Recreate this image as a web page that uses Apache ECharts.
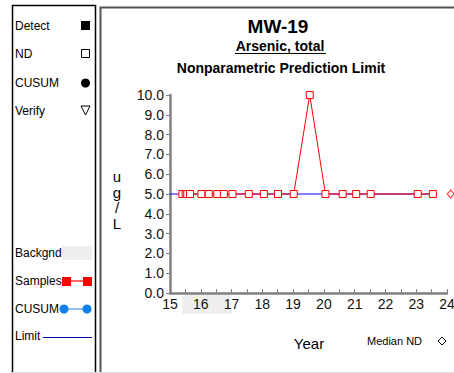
<!DOCTYPE html>
<html><head><meta charset="utf-8">
<script src="https://cdn.jsdelivr.net/npm/echarts@6/dist/echarts.min.js"></script>
<style>html,body{margin:0;padding:0;background:#fff}#c{width:454px;height:373px}</style>
</head><body><div id="c"></div>
<script>
// ---- data ----
var sampleYears = [15.40, 15.51, 15.56, 15.65, 16.02, 16.26, 16.54, 16.75, 17.03, 17.56, 18.05, 18.51, 19.02, 19.54, 20.05, 20.61, 21.05, 21.52, 23.05, 23.54];
var sampleValues = [5.0, 5.0, 5.0, 5.0, 5.0, 5.0, 5.0, 5.0, 5.0, 5.0, 5.0, 5.0, 5.0, 10.0, 5.0, 5.0, 5.0, 5.0, 5.0, 5.0];
var limitYears = [15.0, 23.54];
var limitValue = 5.0;
var medianNDYear = [24.12];
var medianNDValue = [5.0];
var backgroundRange = [15.40, 17.0];
var xTicks = [15, 16, 17, 18, 19, 20, 21, 22, 23, 24];
var yTicks = [0, 1, 2, 3, 4, 5, 6, 7, 8, 9, 10];

var F = 'Arial, "Liberation Sans", Helvetica, sans-serif';
var chart = echarts.init(document.getElementById('c'), null, {renderer: 'svg'});

var samples = sampleYears.map(function (x, i) { return [x, sampleValues[i]]; });
var limit = limitYears.map(function (x) { return [x, limitValue]; });
var median = medianNDYear.map(function (x, i) { return [x, medianNDValue[i]]; });
var xMinor = [];
xTicks.slice(0, -1).forEach(function (v) { xMinor.push(v, v + 0.5); });
xMinor.push(xTicks[xTicks.length - 1]);

function t(x, y, s, opt) {
  opt = opt || {};
  return {type: 'text', x: x, y: y, silent: true, z: 10, style: {text: s, fill: opt.fill || '#000', font: (opt.bold ? 'bold ' : '') + (opt.size || 12) + 'px ' + F, textAlign: opt.align || 'left', textVerticalAlign: opt.valign || 'middle'}};
}
var gray = '#808080';
var graphic = [
  // panels
  {type: 'rect', shape: {x: 12.5, y: 5.5, width: 83, height: 380}, style: {fill: 'none', stroke: '#000', lineWidth: 1.5}},
  {type: 'polyline', shape: {points: [[100.5, 380], [100.5, 7.5], [460, 7.5]]}, style: {fill: 'none', stroke: '#555', lineWidth: 2}},
  {type: 'line', shape: {x1: 12, y1: 372.5, x2: 454, y2: 372.5}, style: {stroke: '#ddd', lineWidth: 1}},
  // legend
  t(15, 26, 'Detect'), {type: 'rect', shape: {x: 81, y: 21, width: 9, height: 9}, style: {fill: '#000'}},
  t(15, 54, 'ND'), {type: 'rect', shape: {x: 81.5, y: 49.5, width: 8, height: 8}, style: {fill: '#fff', stroke: '#000', lineWidth: 1}},
  t(15, 83, 'CUSUM'), {type: 'circle', shape: {cx: 85.5, cy: 83, r: 4.5}, style: {fill: '#000'}},
  t(15, 111, 'Verify'), {type: 'polygon', shape: {points: [[81, 106], [90, 106], [85.5, 115]]}, style: {fill: '#fff', stroke: '#000', lineWidth: 1}},
  t(15, 253, 'Backgnd'), {type: 'rect', shape: {x: 62, y: 246, width: 30, height: 14}, style: {fill: '#eeeeee'}},
  t(15, 281, 'Samples'), {type: 'line', shape: {x1: 66, y1: 281, x2: 88, y2: 281}, style: {stroke: '#f33', lineWidth: 1.5}},
  {type: 'rect', shape: {x: 62, y: 277, width: 9, height: 9}, style: {fill: '#f00'}},
  {type: 'rect', shape: {x: 83, y: 277, width: 9, height: 9}, style: {fill: '#f00'}},
  t(15, 309, 'CUSUM'), {type: 'line', shape: {x1: 64, y1: 309, x2: 87, y2: 309}, style: {stroke: '#6aaaf0', lineWidth: 1.5}},
  {type: 'circle', shape: {cx: 64, cy: 309, r: 4.5}, style: {fill: '#1080ee'}},
  {type: 'circle', shape: {cx: 87, cy: 309, r: 4.5}, style: {fill: '#1080ee'}},
  t(15, 336, 'Limit'), {type: 'line', shape: {x1: 43, y1: 337.5, x2: 92, y2: 337.5}, style: {stroke: '#0000aa', lineWidth: 1}},
  // titles
  t(278, 26, 'MW-19', {bold: true, size: 19, align: 'center'}),
  t(280, 46, 'Arsenic, total', {bold: true, size: 14, align: 'center'}),
  {type: 'line', shape: {x1: 235, y1: 53.5, x2: 326, y2: 53.5}, style: {stroke: '#000', lineWidth: 1}},
  t(281, 68, 'Nonparametric Prediction Limit', {bold: true, size: 14, align: 'center'}),
  // y axis name
  t(117, 176, 'u', {size: 15, align: 'center'}),
  t(117, 192, 'g', {size: 15, align: 'center'}),
  t(117, 207, '/', {size: 15, align: 'center'}),
  t(117, 223, 'L', {size: 15, align: 'center'}),
  t(309, 343, 'Year', {size: 15, align: 'center'}),
  t(367, 341, 'Median ND', {size: 11}),
  {type: 'polygon', shape: {points: [[442, 337], [446, 341], [442, 345], [438, 341]]}, style: {fill: '#fff', stroke: '#000', lineWidth: 1}}
];

var option = {
  animation: false,
  backgroundColor: '#fff',
  grid: [
    {left: 170, top: 95, width: 277, height: 198, containLabel: false, outerBoundsMode: 'none'},
    {left: 170, top: 295, width: 277, height: 19, containLabel: false, outerBoundsMode: 'none'}
  ],
  xAxis: [{
    gridIndex: 0, type: 'value', min: xTicks[0], max: xTicks[xTicks.length - 1], interval: 1, z: 5,
    axisLine: {lineStyle: {color: gray, width: 2.5}},
    axisTick: {inside: true, length: 4, customValues: xMinor, lineStyle: {color: gray, width: 1}},
    axisLabel: {show: false},
    splitLine: {show: false}
  }, {
    gridIndex: 1, type: 'value', min: xTicks[0], max: xTicks[xTicks.length - 1], show: false
  }],
  yAxis: [{
    gridIndex: 0, type: 'value', min: yTicks[0], max: yTicks[yTicks.length - 1], interval: 1,
    axisLine: {show: true, lineStyle: {color: gray, width: 2.5}},
    axisTick: {show: true, length: 4, lineStyle: {color: gray, width: 1}},
    axisLabel: {color: '#111', fontSize: 14, fontFamily: F, margin: 6, formatter: function (v) { return v.toFixed(1); }},
    splitLine: {show: false}
  }, {
    gridIndex: 1, type: 'value', min: 0, max: 1, show: false
  }],
  series: [
    {
      type: 'line', xAxisIndex: 1, yAxisIndex: 1, data: [], silent: true, z: -1,
      markArea: {silent: true, itemStyle: {color: '#eeeeee'}, data: [[{xAxis: backgroundRange[0]}, {xAxis: backgroundRange[1]}]]}
    },
    {
      type: 'line', data: limit, symbol: 'none', lineStyle: {color: '#0000ff', width: 1}, z: 2
    },
    {
      type: 'line', data: samples, symbol: 'rect', symbolSize: 7,
      lineStyle: {color: '#ff0000', width: 1},
      itemStyle: {color: '#fff', borderColor: '#ff0000', borderWidth: 1}, z: 3
    },
    {
      type: 'scatter', data: median, symbol: 'diamond', symbolSize: [7, 8], clip: false,
      itemStyle: {color: '#fff', borderColor: '#ff0000', borderWidth: 1}, z: 3
    }
  ]
};
chart.setOption(option);

// x tick labels placed through the x axis scale
var xLabelEls = xTicks.map(function (v) {
  var p = chart.convertToPixel({xAxisIndex: 0, yAxisIndex: 0}, [v, yTicks[0]]);
  return t(p[0], p[1] + 4, String(v), {size: 14, align: 'center', valign: 'top', fill: '#111'});
});
chart.setOption({graphic: graphic.concat(xLabelEls)});
</script>
</body></html>
